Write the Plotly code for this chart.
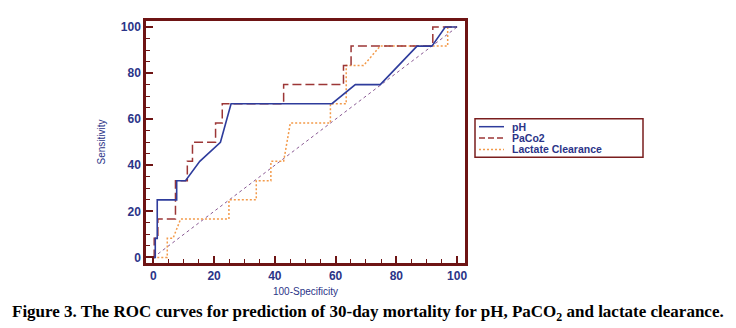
import plotly.graph_objects as go

# ---- data ----
ph_x = [0, 0.65, 0.65, 1.3, 1.3, 7.7, 7.7, 10.6, 15.3, 22.1, 25.6, 58.8, 66.5, 74.7, 86.8, 91.7, 96.1, 100]
ph_y = [0, 0, 8.3, 8.3, 25, 25, 33.3, 33.3, 41.7, 50, 66.7, 66.7, 75, 75, 91.7, 91.7, 100, 100]

paco2_x = [0, 0.3, 0.3, 1.5, 1.5, 7.3, 7.3, 11.2, 11.2, 12.9, 12.9, 20.5, 20.5, 22.7, 22.7,
           42.9, 42.9, 62.6, 62.6, 65.1, 65.1, 92.0, 92.0, 100]
paco2_y = [0, 0, 8.3, 8.3, 16.7, 16.7, 33.3, 33.3, 41.7, 41.7, 50, 50, 58.3, 58.3, 66.7,
           66.7, 75, 75, 83.3, 83.3, 91.7, 91.7, 100, 100]

lact_x = [0, 4.6, 4.6, 6.5, 9.0, 24.9, 24.9, 33.9, 33.9, 38.7, 38.7, 42.9, 45.1, 58.3, 58.3,
          63.5, 63.5, 69.2, 74.7, 96.9, 96.9, 100]
lact_y = [0, 0, 8.3, 8.3, 16.7, 16.7, 25, 25, 33.3, 33.3, 41.7, 41.7, 58.3, 58.3, 66.7,
          66.7, 83.3, 83.3, 91.7, 91.7, 100, 100]

diag_x = [0, 100]
diag_y = [0, 100]

series_names = ["pH", "PaCo2", "Lactate Clearance"]
tick_vals = [0, 20, 40, 60, 80, 100]
x_title = "100-Specificity"
y_title = "Sensitivity"
caption = "Figure 3. The ROC curves for prediction of 30-day mortality for pH, PaCO<sub>2</sub> and lactate clearance."

# ---- styles ----
NAVY = "#2b3488"
FRAME = "#6e1414"
C_PH = "#2e3c9c"
C_PACO2 = "#9c3636"
C_LACT = "#f39a4a"
C_DIAG = "#8a5a94"

fig = go.Figure()
fig.add_trace(go.Scatter(x=diag_x, y=diag_y, mode="lines",
                         line=dict(color=C_DIAG, width=1, dash="3px,3px"), showlegend=False))
fig.add_trace(go.Scatter(x=lact_x, y=lact_y, mode="lines", name=series_names[2],
                         line=dict(color=C_LACT, width=1.5, dash="2px,2px")))
fig.add_trace(go.Scatter(x=paco2_x, y=paco2_y, mode="lines", name=series_names[1],
                         line=dict(color=C_PACO2, width=1.5, dash="9px,4px")))
fig.add_trace(go.Scatter(x=ph_x, y=ph_y, mode="lines", name=series_names[0],
                         line=dict(color=C_PH, width=1.6)))

axis_common = dict(
    showgrid=False, zeroline=False,
    showline=True, mirror=True, linecolor=FRAME, linewidth=2.5,
    ticks="inside", ticklen=7, tickwidth=2, tickcolor=FRAME,
    tickvals=tick_vals,
    tickfont=dict(family="Liberation Sans, Arial", size=12, color=NAVY, weight="bold"),
    minor=dict(dtick=5, ticks="inside", ticklen=4, tickwidth=1, tickcolor=FRAME),
    range=[-2.4, 102.6],
)

fig.update_xaxes(**axis_common,
                 title=dict(text=x_title, standoff=6,
                            font=dict(family="Liberation Sans, Arial", size=10, color=NAVY)))
fig.update_yaxes(**axis_common,
                 title=dict(text=y_title, standoff=14,
                            font=dict(family="Liberation Sans, Arial", size=10, color=NAVY)))

# The page body adds an 8px offset, so target window pixels are shifted by OFF.
OFF = 8
W, H = 736, 328
L, R, T, B = 146 - OFF, 465 - OFF, 18 - OFF, 263 - OFF


def px(xp):
    return (xp - OFF - L) / (R - L)


def py(yp):
    return (B - (yp - OFF)) / (B - T)


shapes = [dict(type="rect", xref="paper", yref="paper",
               x0=px(475), x1=px(643), y0=py(156), y1=py(117),
               line=dict(color="#7a1e1e", width=1.5), fillcolor="white")]
rows = [125, 136.5, 148]
styles = [(C_PH, "solid"), (C_PACO2, "6px,3px"), (C_LACT, "2px,2px")]
annotations = []
for name, yy, (col, dash) in zip(series_names, rows, styles):
    shapes.append(dict(type="line", xref="paper", yref="paper",
                       x0=px(479), x1=px(504), y0=py(yy), y1=py(yy),
                       line=dict(color=col, width=1.5, dash=dash)))
    annotations.append(dict(text=name, xref="paper", yref="paper",
                            x=px(511), y=py(yy), xanchor="left", yanchor="middle",
                            showarrow=False, borderpad=0,
                            font=dict(family="Liberation Sans, Arial", size=10.5,
                                      color=NAVY, weight="bold")))

annotations.append(dict(text=caption, xref="paper", yref="paper",
                        x=px(368), y=py(314), xanchor="center", yanchor="middle",
                        showarrow=False,
                        font=dict(family="Liberation Serif, Times New Roman, serif",
                                  size=17, color="black", weight="bold")))

fig.update_layout(
    width=W, height=H,
    margin=dict(l=L, r=W - R, t=T, b=H - B),
    paper_bgcolor="white", plot_bgcolor="white",
    showlegend=False,
    shapes=shapes, annotations=annotations,
)

fig.write_html("out.html")
